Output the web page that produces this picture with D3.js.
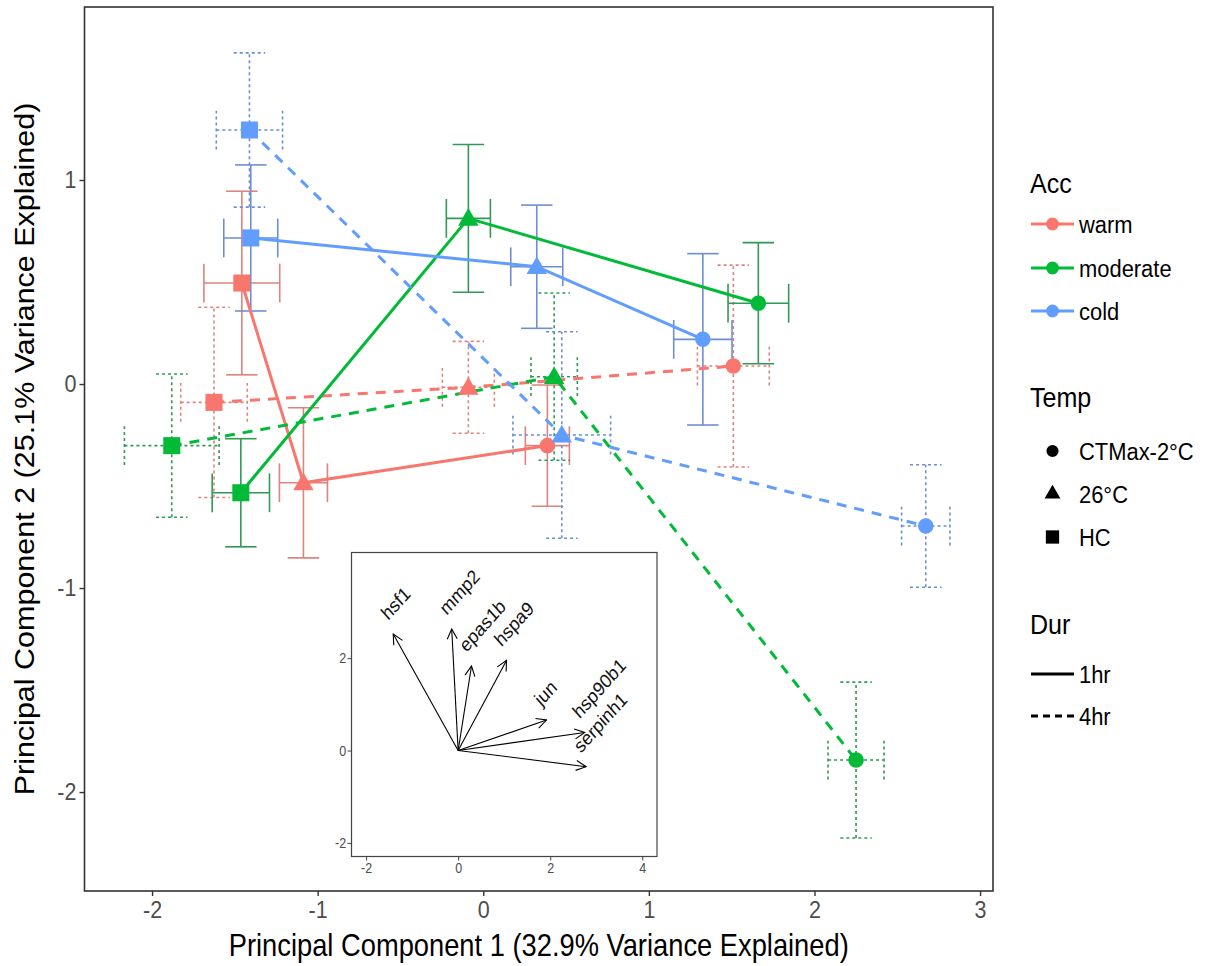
<!DOCTYPE html>
<html>
<head>
<meta charset="utf-8">
<script src="https://cdn.jsdelivr.net/npm/d3@7"></script>
<style>
  body { margin: 0; background: #fff; }
  text { font-family: "Liberation Sans", Arial, sans-serif; }
</style>
</head>
<body>
<svg id="chart" width="1212" height="966"></svg>
<script>
// ---- factor levels ----
const accLevels = ["warm", "moderate", "cold"];
const tempLevels = ["CTMax-2°C", "26°C", "HC"];
const durLevels = ["1hr", "4hr"];

// ---- group means (PC scores) with standard errors ----
// rows: warm 1hr, warm 4hr, moderate 1hr, moderate 4hr, cold 1hr, cold 4hr
// within each: HC, 26°C, CTMax-2°C
const rowAcc  = ["warm","warm","warm","warm","warm","warm",
                 "moderate","moderate","moderate","moderate","moderate","moderate",
                 "cold","cold","cold","cold","cold","cold"];
const rowDur  = ["1hr","1hr","1hr","4hr","4hr","4hr",
                 "1hr","1hr","1hr","4hr","4hr","4hr",
                 "1hr","1hr","1hr","4hr","4hr","4hr"];
const rowTemp = ["HC","26°C","CTMax-2°C","HC","26°C","CTMax-2°C",
                 "HC","26°C","CTMax-2°C","HC","26°C","CTMax-2°C",
                 "HC","26°C","CTMax-2°C","HC","26°C","CTMax-2°C"];
const pc1 = [-1.458, -1.086, 0.387,  -1.626, -0.090, 1.510,
             -1.464, -0.090, 1.661,  -1.881,  0.428, 2.251,
             -1.404,  0.323, 1.326,  -1.412,  0.474, 2.672];
const pc2 = [ 0.495, -0.484, -0.302, -0.090, -0.016, 0.088,
             -0.533,  0.812,  0.396, -0.302,  0.036, -1.843,
              0.716,  0.575,  0.219,  1.245, -0.250, -0.696];
const pc1se = [0.229, 0.145, 0.133,  0.201, 0.157, 0.217,
               0.173, 0.133, 0.183,  0.286, 0.140, 0.169,
               0.163, 0.157, 0.176,  0.200, 0.295, 0.146];
const pc2se = [0.450, 0.368, 0.297,  0.466, 0.225, 0.495,
               0.265, 0.362, 0.297,  0.351, 0.410, 0.382,
               0.358, 0.302, 0.420,  0.378, 0.506, 0.300];

// ---- axis ticks and titles ----
const xTicks = [-2, -1, 0, 1, 2, 3];
const yTicks = [-2, -1, 0, 1];
const xTitle = "Principal Component 1 (32.9% Variance Explained)";
const yTitle = "Principal Component 2 (25.1% Variance Explained)";

// ---- gene loadings for the biplot inset ----
const genes    = ["hsf1", "mmp2", "epas1b", "hspa9", "jun", "hsp90b1", "serpinh1"];
const loadPC1  = [-1.41, -0.14, 0.29, 1.05, 1.92, 2.75, 2.78];
const loadPC2  = [ 2.52,  2.63, 1.83, 1.95, 0.66, 0.39, -0.35];
const insetXTicks = [-2, 0, 2, 4];
const insetYTicks = [-2, 0, 2];

// ---- build records ----
const rows = pc1.map((v, i) => ({
  acc: rowAcc[i], dur: rowDur[i], temp: rowTemp[i],
  x: v, y: pc2[i], sx: pc1se[i], sy: pc2se[i]
}));

const SX = 0.895; // horizontal squeeze of lettering
const svg = d3.select("#chart");
const plain = d => String(d); // ASCII hyphen for negatives

const colour = d3.scaleOrdinal().domain(accLevels).range(["#F8766D", "#00BA38", "#619CFF"]);
const barColour = d3.scaleOrdinal().domain(accLevels).range(["#de837d", "#2f9a55", "#6d8fd0"]);
const lineDash = d3.scaleOrdinal().domain(durLevels).range([null, "10,8"]);
const barDash = d3.scaleOrdinal().domain(durLevels).range([null, "3,3"]);

const panel = { left: 84.5, right: 993, top: 7, bottom: 891 };
const x = d3.scaleLinear().domain([-2.408, 3.078]).range([panel.left, panel.right]);
const y = d3.scaleLinear().domain([-2.485, 1.848]).range([panel.bottom, panel.top]);

// text helper with horizontal squeeze
function label(g, px, py, str, size, opts = {}) {
  const rot = opts.rotate ? ` rotate(${opts.rotate})` : "";
  return g.append("text")
    .attr("transform", `translate(${px},${py}) scale(${SX},1)${rot}`)
    .attr("text-anchor", opts.anchor || "start")
    .attr("dy", opts.dy || "0.35em")
    .attr("font-size", size)
    .attr("fill", opts.fill || "#000")
    .text(str);
}

// ---- main panel ----
const plot = svg.append("g");

// error bars
const bars = plot.append("g");
const capW = 0.19; // cap width in x units for vertical bars
const capH = 0.19; // cap height in y units for horizontal bars
rows.forEach(d => {
  const g = bars.append("g")
    .attr("stroke", barColour(d.acc))
    .attr("stroke-width", 1.6)
    .attr("stroke-dasharray", barDash(d.dur))
    .attr("fill", "none");
  // vertical
  g.append("line").attr("x1", x(d.x)).attr("x2", x(d.x)).attr("y1", y(d.y - d.sy)).attr("y2", y(d.y + d.sy));
  g.append("line").attr("x1", x(d.x - capW / 2)).attr("x2", x(d.x + capW / 2)).attr("y1", y(d.y + d.sy)).attr("y2", y(d.y + d.sy));
  g.append("line").attr("x1", x(d.x - capW / 2)).attr("x2", x(d.x + capW / 2)).attr("y1", y(d.y - d.sy)).attr("y2", y(d.y - d.sy));
  // horizontal
  g.append("line").attr("x1", x(d.x - d.sx)).attr("x2", x(d.x + d.sx)).attr("y1", y(d.y)).attr("y2", y(d.y));
  g.append("line").attr("x1", x(d.x - d.sx)).attr("x2", x(d.x - d.sx)).attr("y1", y(d.y - capH / 2)).attr("y2", y(d.y + capH / 2));
  g.append("line").attr("x1", x(d.x + d.sx)).attr("x2", x(d.x + d.sx)).attr("y1", y(d.y - capH / 2)).attr("y2", y(d.y + capH / 2));
});

// paths connecting temperatures within each Acc x Dur group
const groups = d3.groups(rows, d => d.acc, d => d.dur);
const lineGen = d3.line().x(d => x(d.x)).y(d => y(d.y));
groups.forEach(([acc, byDur]) => {
  byDur.forEach(([dur, pts]) => {
    plot.append("path")
      .attr("d", lineGen(pts))
      .attr("fill", "none")
      .attr("stroke", colour(acc))
      .attr("stroke-width", 3)
      .attr("stroke-dasharray", lineDash(dur));
  });
});

// points by temperature shape
const shape = d3.scaleOrdinal().domain(tempLevels)
  .range([d3.symbol().type(d3.symbolCircle).size(190)(),
          d3.symbol().type(d3.symbolTriangle).size(180)(),
          d3.symbol().type(d3.symbolSquare).size(290)()]);
plot.append("g").selectAll("path").data(rows).join("path")
  .attr("d", d => shape(d.temp))
  .attr("transform", d => `translate(${x(d.x)},${y(d.y) + (d.temp === "26°C" ? 1.5 : 0)})`)
  .attr("fill", d => colour(d.acc));

// panel border
svg.append("rect")
  .attr("x", panel.left).attr("y", panel.top)
  .attr("width", panel.right - panel.left).attr("height", panel.bottom - panel.top)
  .attr("fill", "none").attr("stroke", "#333").attr("stroke-width", 1.6);

// axes
const xAxis = svg.append("g").attr("transform", `translate(0,${panel.bottom})`)
  .call(d3.axisBottom(x).tickValues(xTicks).tickSize(5).tickFormat(plain));
const yAxis = svg.append("g").attr("transform", `translate(${panel.left},0)`)
  .call(d3.axisLeft(y).tickValues(yTicks).tickSize(5).tickFormat(plain));
[xAxis, yAxis].forEach(a => {
  a.select(".domain").remove();
  a.selectAll(".tick line").attr("stroke", "#333").attr("stroke-width", 1.4);
  a.selectAll(".tick text").attr("font-size", 24).attr("fill", "#4d4d4d")
    .attr("font-family", "'Liberation Sans', Arial, sans-serif");
});
xAxis.selectAll(".tick text").attr("y", 10).attr("dy", "0.71em").attr("transform", `scale(${SX},1)`);
yAxis.selectAll(".tick text").attr("x", -9).attr("transform", `scale(${SX},1)`);

label(svg, (panel.left + panel.right) / 2, 945, xTitle, 30.5, { anchor: "middle" });
svg.append("text")
  .attr("transform", `translate(24,${(panel.top + panel.bottom) / 2}) scale(${SX},1) rotate(-90)`)
  .attr("text-anchor", "middle").attr("dy", "0.35em")
  .attr("font-size", 30.5).text(yTitle);

// ---- biplot inset ----
const inset = { left: 351.5, right: 657, top: 552.5, bottom: 856.5 };
const ix = d3.scaleLinear().domain([-2.317, 4.32]).range([inset.left, inset.right]);
const iy = d3.scaleLinear().domain([-2.294, 4.286]).range([inset.bottom, inset.top]);
const ig = svg.append("g");
ig.append("rect")
  .attr("x", inset.left).attr("y", inset.top)
  .attr("width", inset.right - inset.left).attr("height", inset.bottom - inset.top)
  .attr("fill", "#fff").attr("stroke", "#444").attr("stroke-width", 1.2);

const ixAxis = ig.append("g").attr("transform", `translate(0,${inset.bottom})`)
  .call(d3.axisBottom(ix).tickValues(insetXTicks).tickSize(4).tickFormat(plain));
const iyAxis = ig.append("g").attr("transform", `translate(${inset.left},0)`)
  .call(d3.axisLeft(iy).tickValues(insetYTicks).tickSize(4).tickFormat(plain));
[ixAxis, iyAxis].forEach(a => {
  a.select(".domain").remove();
  a.selectAll(".tick line").attr("stroke", "#444");
  a.selectAll(".tick text").attr("font-size", 14).attr("fill", "#4d4d4d")
    .attr("font-family", "'Liberation Sans', Arial, sans-serif")
    .attr("transform", `scale(${SX},1)`);
});
ixAxis.selectAll(".tick text").attr("y", 7);
iyAxis.selectAll(".tick text").attr("x", -6);

svg.append("defs").append("marker")
  .attr("id", "openhead").attr("markerUnits", "userSpaceOnUse")
  .attr("viewBox", "-11 -6 12 12").attr("refX", 0).attr("refY", 0)
  .attr("markerWidth", 12).attr("markerHeight", 12).attr("orient", "auto")
  .append("path").attr("d", "M-10,-5L0,0L-10,5")
  .attr("fill", "none").attr("stroke", "#000").attr("stroke-width", 1.1);

const loads = genes.map((g, i) => ({ gene: g, x: loadPC1[i], y: loadPC2[i] }));
ig.append("g").selectAll("line").data(loads).join("line")
  .attr("x1", ix(0)).attr("y1", iy(0))
  .attr("x2", d => ix(d.x)).attr("y2", d => iy(d.y))
  .attr("stroke", "#000").attr("stroke-width", 1.1)
  .attr("marker-end", "url(#openhead)");
ig.append("g").selectAll("text").data(loads).join("text")
  .attr("transform", d => `translate(${ix(d.x) - 5},${iy(d.y) - 13}) scale(${SX},1) rotate(-45)`)
  .attr("font-size", 19.5).attr("fill", "#111")
  .text(d => d.gene);

// ---- legends ----
const lg = svg.append("g");
const keyX0 = 1031, keyX1 = 1074, keyMid = 1052.5, textX = 1079;

label(lg, 1030, 183, "Acc", 28);
accLevels.forEach((a, i) => {
  const cy = [224, 268, 311][i];
  lg.append("line").attr("x1", keyX0).attr("x2", keyX1).attr("y1", cy).attr("y2", cy)
    .attr("stroke", colour(a)).attr("stroke-width", 3);
  lg.append("path").attr("d", d3.symbol().type(d3.symbolCircle).size(130)())
    .attr("transform", `translate(${keyMid},${cy})`).attr("fill", colour(a));
  label(lg, textX, cy, a, 24.5);
});

label(lg, 1030, 397, "Temp", 28);
tempLevels.forEach((t, i) => {
  const cy = [451, 494, 537][i];
  lg.append("path").attr("d", shape(t))
    .attr("transform", `translate(${keyMid},${cy}) scale(0.78)`).attr("fill", "#000");
  label(lg, textX, cy, t, 24.5);
});

label(lg, 1030, 624, "Dur", 28);
durLevels.forEach((d, i) => {
  const cy = [674, 716][i];
  lg.append("line").attr("x1", keyX0).attr("x2", keyX1).attr("y1", cy).attr("y2", cy)
    .attr("stroke", "#000").attr("stroke-width", 3)
    .attr("stroke-dasharray", d === "4hr" ? "7,5" : null);
  label(lg, textX, cy, d, 24.5);
});
</script>
</body>
</html>
